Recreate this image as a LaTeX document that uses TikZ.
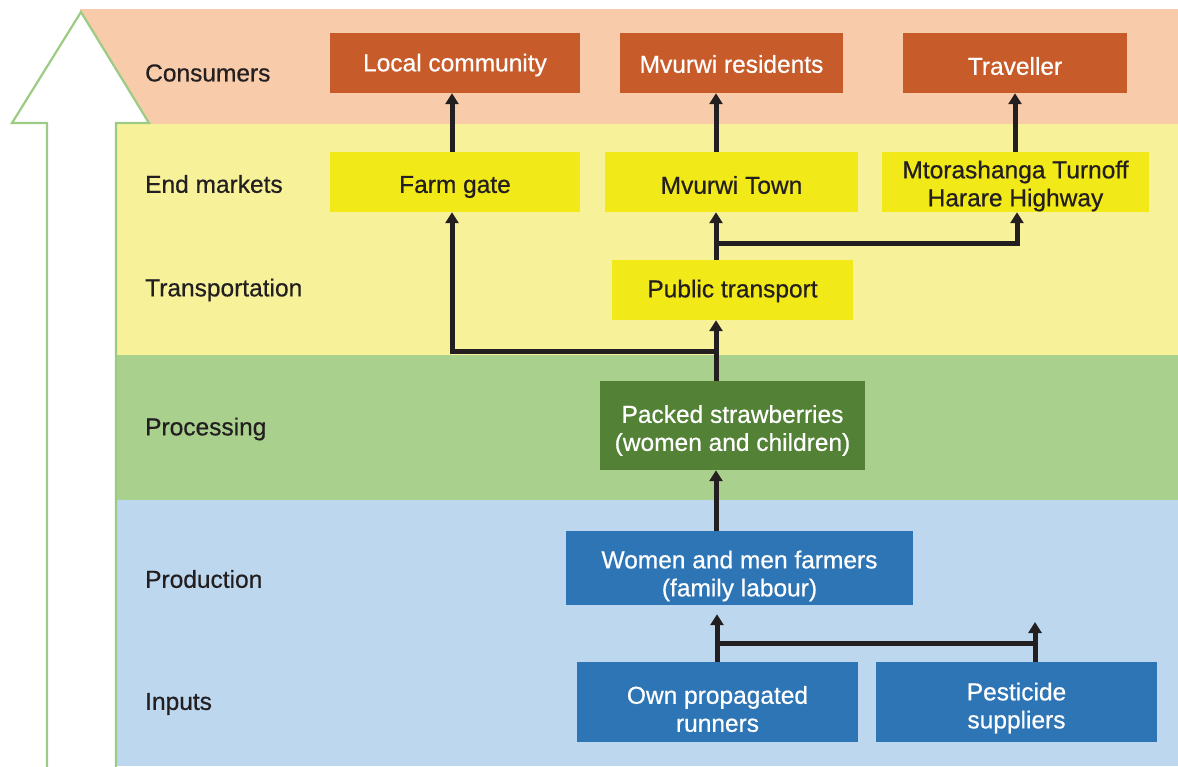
\documentclass[tikz,border=0pt]{standalone}
\usepackage{fontspec}
\setmainfont{Liberation Sans}[FakeBold=0.6]
\usetikzlibrary{arrows.meta,calc}
\definecolor{bandpink}{HTML}{F8CBAA}
\definecolor{bandyellow}{HTML}{F7F29A}
\definecolor{bandgreen}{HTML}{AAD08E}
\definecolor{bandblue}{HTML}{BDD7EE}
\definecolor{boxorange}{HTML}{C75B2A}
\definecolor{boxyellow}{HTML}{F2E919}
\definecolor{boxgreen}{HTML}{538135}
\definecolor{boxblue}{HTML}{2E75B6}
\definecolor{arrowgreen}{HTML}{9CCC84}
\definecolor{ink}{HTML}{231F20}
\tikzset{
  lbl/.style={anchor=west, inner sep=0pt, text=ink, font=\fontsize{24.5}{28}\selectfont},
  txt/.style={inner sep=0pt, align=center, font=\fontsize{24.5}{28}\selectfont},
  box/.style={inner sep=0pt},
  consbox/.style={box, fill=boxorange},
  mktbox/.style={box, fill=boxyellow},
  procbox/.style={box, fill=boxgreen},
  prodbox/.style={box, fill=boxblue},
  wtxt/.style={txt, text=white},
  dtxt/.style={txt, text=ink},
  conn/.style={draw=ink, line width=5pt, -{Triangle[length=11pt,width=13pt]}},
  plain/.style={draw=ink, line width=5pt},
  bigarrow/.style={draw=arrowgreen, line width=2.2pt, fill=white, line join=miter}
}
\begin{document}
\begin{tikzpicture}[x=1pt,y=-1pt]
\useasboundingbox (0,0) rectangle (1178,766);
% bands
\fill[bandpink] (80,9) rectangle (1178,124);
\fill[bandyellow] (116,124) rectangle (1178,355);
\fill[bandgreen] (116,355) rectangle (1178,500);
\fill[bandblue] (116,500) rectangle (1178,766);
% big arrow
\draw[bigarrow] (47,768) -- (47,123) -- (12,123) -- (81,12) -- (149,123) -- (116,123) -- (116,768);
% row labels
\node[lbl] (lcons) at (145,73) {Consumers};
\node[lbl] (lend) at (145,184) {End markets};
\node[lbl] (ltra) at (145,290) {Transportation};
\node[lbl] (lproc) at (145,429) {Processing};
\node[lbl] (lprod) at (145,579) {Production};
\node[lbl] (linp) at (145,704) {Inputs};
% boxes
\node[consbox, minimum width=250pt, minimum height=60pt,
  label={[wtxt, yshift=-2pt]center:Local community}] (lc) at (455,63) {};
\node[consbox, minimum width=223pt, minimum height=60pt,
  label={[wtxt, yshift=-1pt]center:Mvurwi residents}] (mr) at (731.5,63) {};
\node[consbox, minimum width=224pt, minimum height=60pt,
  label={[wtxt, yshift=-3pt]center:Traveller}] (tr) at (1015,63) {};
\node[mktbox, minimum width=250pt, minimum height=60pt,
  label={[dtxt, yshift=-5pt]center:Farm gate}] (fg) at (455,182) {};
\node[mktbox, minimum width=253pt, minimum height=60pt,
  label={[dtxt, yshift=-3pt]center:Mvurwi Town}] (mt) at (731.5,182) {};
\node[mktbox, minimum width=267pt, minimum height=60pt,
  label={[dtxt, yshift=-4pt]center:{Mtorashanga Turnoff\\Harare Highway}}] (mh) at (1015.5,182) {};
\node[mktbox, minimum width=241pt, minimum height=60pt,
  label={[dtxt, yshift=-1pt]center:Public transport}] (pt) at (732.5,290) {};
\node[procbox, minimum width=265pt, minimum height=89pt,
  label={[wtxt, yshift=-5pt]center:{Packed strawberries\\(women and children)}}] (pk) at (732.5,425.5) {};
\node[prodbox, minimum width=347pt, minimum height=74pt,
  label={[wtxt, yshift=-8pt]center:{Women and men farmers\\(family labour)}}] (wm) at (739.5,568) {};
\node[prodbox, minimum width=281pt, minimum height=80pt,
  label={[wtxt, yshift=-7pt]center:{Own propagated\\runners}}] (op) at (717.5,702) {};
\node[prodbox, minimum width=281pt, minimum height=80pt,
  label={[wtxt, yshift=-6pt]center:{Pesticide\\suppliers}}] (ps) at (1016.5,702) {};
% spine coordinates
\coordinate (sp) at (716,0);
\coordinate (sl) at (452,0);
\coordinate (sr) at (1035,0);
\coordinate (sm) at (1017,0);
\coordinate (st) at (1015,0);
\coordinate (si) at (717,0);
% connectors
\draw[conn] (wm.north -| sp) -- (pk.south -| sp);
\draw[conn] (pk.north -| sp) -- (pt.south -| sp);
\coordinate (j1) at (716,351);
\draw[conn] (j1) -| (fg.south -| sl);
\draw[conn] (pt.north -| sp) -- (mt.south -| sp);
\coordinate (j2) at (716,243);
\draw[conn] (j2) -| (mh.south -| sm);
\draw[conn] (fg.north -| sl) -- (lc.south -| sl);
\draw[conn] (mt.north -| sp) -- (mr.south -| sp);
\draw[conn] (mh.north -| st) -- (tr.south -| st);
% inputs
\draw[conn, shorten >=9pt] (op.north -| si) -- (wm.south -| si);
\coordinate (j3) at (717,643);
\coordinate (pend) at (1035,622);
\draw[plain] (j3) -- (j3 -| sr);
\draw[conn] (ps.north -| sr) -- (pend);
\end{tikzpicture}
\end{document}
